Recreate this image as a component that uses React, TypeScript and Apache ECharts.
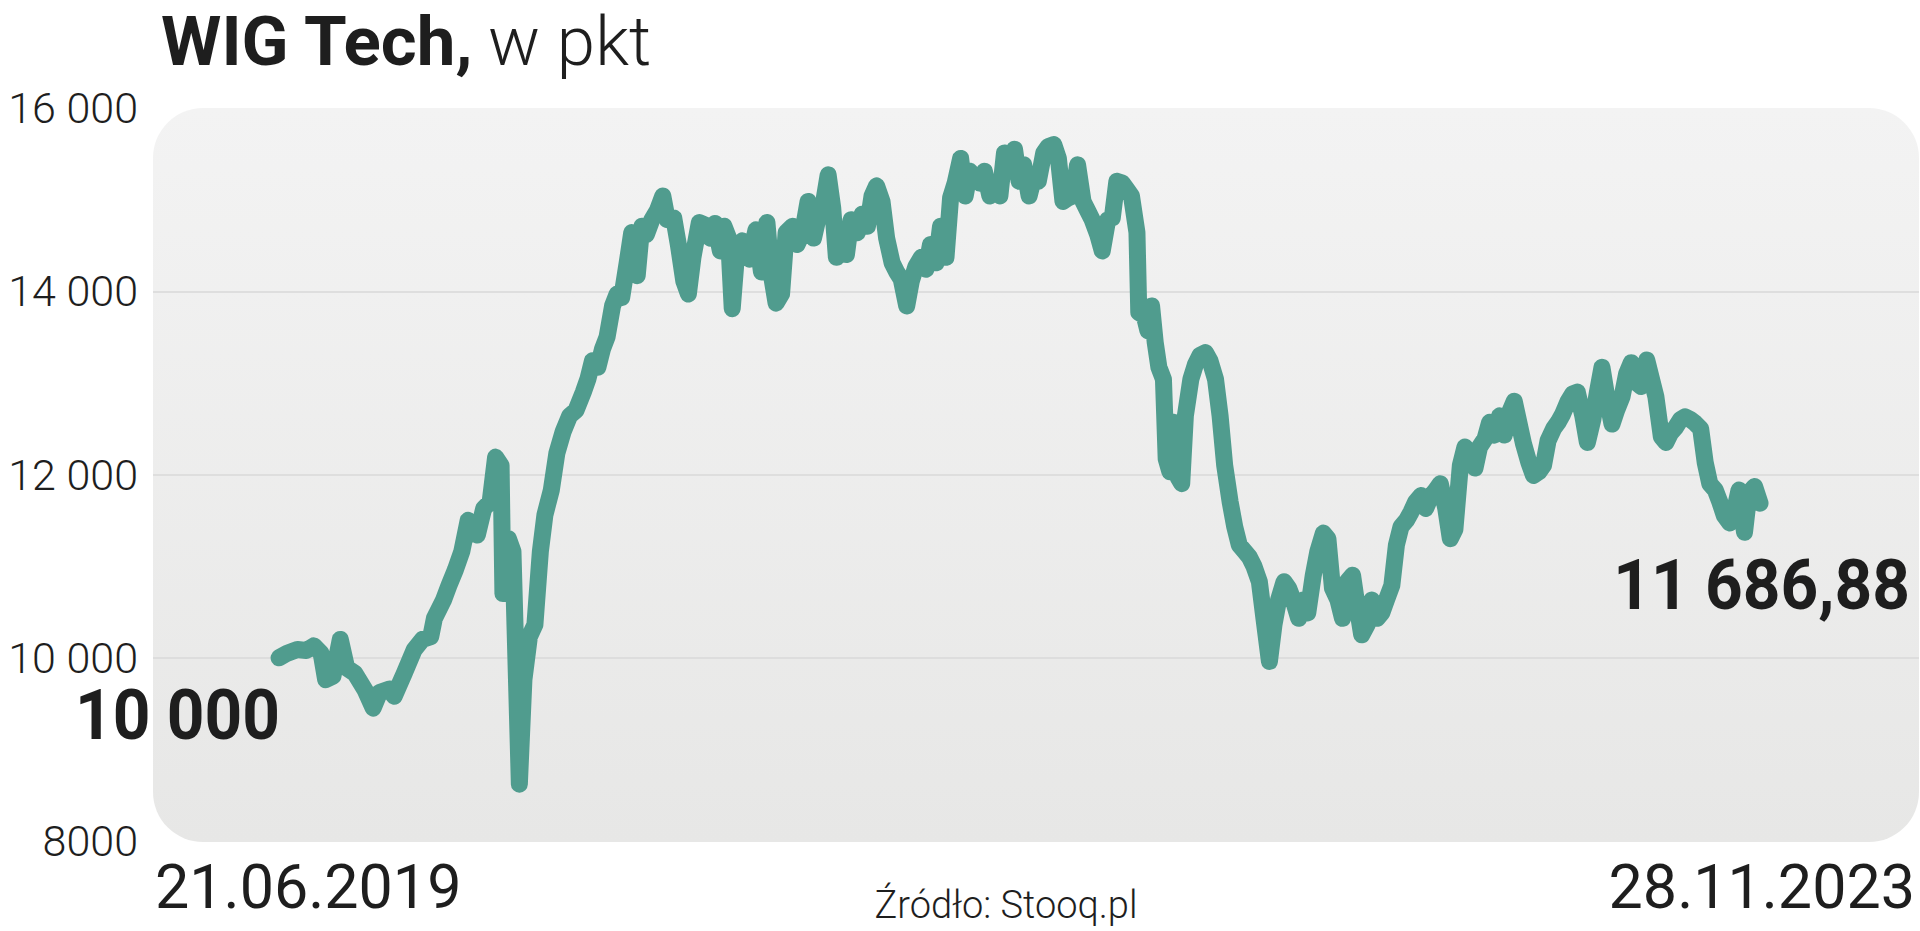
import React, { useEffect, useRef } from "react";
import * as echarts from "echarts";

// Days elapsed since 21.06.2019 (start of the series)
const days = [
  0, 9, 20, 30, 38, 46, 51, 59, 67, 74, 83, 94, 103, 110, 121, 126, 137, 148, 157, 166,
  170, 180, 186, 193, 200, 207, 212, 217, 224, 231, 237, 243, 245, 251, 256, 263, 268, 274, 280, 286,
  291, 298, 304, 311, 318, 325, 333, 338, 343, 349, 354, 359, 365, 370, 375, 381, 386, 392, 397, 402,
  408, 414, 420, 425, 432, 437, 443, 448, 453, 460, 467, 472, 477, 483, 487, 492, 496, 500, 507, 515,
  522, 528, 534, 539, 544, 550, 555, 562, 567, 573, 579, 585, 590, 595, 601, 606, 610, 616, 621, 626,
  633, 638, 644, 649, 654, 660, 665, 671, 676, 681, 687, 692, 697, 703, 708, 713, 719, 724, 730, 735,
  740, 746, 751, 756, 762, 767, 772, 778, 783, 789, 794, 799, 805, 810, 815, 821, 826, 831, 837, 842,
  848, 853, 858, 864, 869, 874, 880, 885, 890, 896, 901, 907, 912, 917, 923, 928, 933, 939, 941, 947,
  951, 955, 959, 963, 968, 971, 975, 979, 984, 988, 992, 998, 1003, 1008, 1014, 1019, 1025, 1030, 1035, 1041,
  1046, 1051, 1057, 1062, 1067, 1073, 1078, 1084, 1089, 1094, 1100, 1105, 1110, 1116, 1121, 1126, 1132, 1137, 1143, 1148,
  1153, 1159, 1164, 1169, 1175, 1180, 1185, 1191, 1196, 1202, 1207, 1212, 1218, 1223, 1228, 1234, 1239, 1244, 1250, 1255,
  1261, 1266, 1271, 1277, 1282, 1287, 1293, 1298, 1303, 1309, 1314, 1320, 1325, 1330, 1336, 1341, 1346, 1352, 1357, 1362,
  1368, 1373, 1379, 1384, 1389, 1395, 1400, 1405, 1411, 1416, 1421, 1427, 1432, 1438, 1443, 1448, 1454, 1459, 1464, 1470,
  1475, 1480, 1486, 1491, 1497, 1502, 1507, 1513, 1518, 1523, 1529, 1534, 1539, 1545, 1550, 1556, 1561, 1566, 1572, 1577,
  1582, 1588, 1593, 1598, 1604, 1609, 1615, 1621,
];

// WIG Tech index value, points
const values = [
  10000, 10050, 10090, 10080, 10130, 10050, 9760, 9800, 10200, 9890, 9830, 9650, 9450, 9620, 9660, 9580, 9830, 10090, 10200, 10230,
  10430, 10630, 10790, 10960, 11160, 11500, 11430, 11340, 11630, 11700, 12190, 12100, 10700, 11300, 11160, 8620, 9760, 10230, 10360, 11160,
  11560, 11830, 12230, 12470, 12640, 12700, 12900, 13040, 13240, 13170, 13370, 13500, 13840, 13970, 13930, 14310, 14640, 14170, 14710, 14620,
  14780, 14880, 15040, 14780, 14800, 14510, 14110, 13970, 14370, 14750, 14720, 14580, 14740, 14440, 14710, 14580, 13810, 14310, 14550, 14350,
  14670, 14210, 14750, 14170, 13870, 13970, 14640, 14710, 14510, 14640, 14980, 14580, 14800, 14910, 15270, 14910, 14370, 14580, 14400, 14780,
  14640, 14840, 14710, 15040, 15150, 14980, 14580, 14310, 14210, 14130, 13840, 14110, 14270, 14370, 14240, 14510, 14310, 14710, 14370, 15020,
  15180, 15450, 15040, 15310, 15240, 15180, 15310, 15040, 15180, 15040, 15510, 15380, 15550, 15200, 15380, 15040, 15240, 15200, 15510, 15580,
  15600, 15450, 14980, 15020, 15040, 15380, 14980, 14880, 14780, 14620, 14440, 14780, 14800, 15200, 15180, 15110, 15040, 14640, 13770, 13730,
  13570, 13840, 13440, 13170, 13040, 12170, 12030, 12570, 11970, 11900, 12640, 13040, 13200, 13300, 13330, 13240, 13040, 12640, 12100, 11700,
  11430, 11230, 11160, 11100, 11000, 10830, 10430, 9960, 10360, 10630, 10830, 10760, 10630, 10430, 10630, 10490, 10900, 11160, 11360, 11300,
  10760, 10630, 10430, 10830, 10900, 10560, 10250, 10360, 10630, 10430, 10490, 10630, 10790, 11230, 11430, 11500, 11590, 11700, 11770, 11630,
  11770, 11830, 11900, 11630, 11300, 11400, 12100, 12300, 12230, 12070, 12300, 12390, 12570, 12430, 12640, 12430, 12660, 12800, 12570, 12340,
  12130, 11990, 12030, 12100, 12370, 12500, 12570, 12660, 12800, 12880, 12900, 12640, 12350, 12600, 12900, 13170, 12800, 12550, 12700, 12850,
  13100, 13220, 13000, 12960, 13250, 13050, 12850, 12410, 12350, 12450, 12520, 12600, 12630, 12600, 12560, 12500, 12130, 11900, 11830, 11700,
  11550, 11470, 11600, 11830, 11370, 11800, 11870, 11686.88,
];

const yTicks = [8000, 10000, 12000, 14000, 16000];
const yTickLabels = ["8000", "10 000", "12 000", "14 000", "16 000"];

const titleBold = "WIG Tech,";
const titleLight = "w pkt";
const startValueLabel = "10 000";
const endValueLabel = "11 686,88";
const startDateLabel = "21.06.2019";
const endDateLabel = "28.11.2023";
const sourceLabel = "Źródło: Stooq.pl";

const TEXT = "#1e1e1e";
const LINE = "#509c8e";
const FONT = "Roboto, 'Noto Sans', sans-serif";

export default function App() {
  const ref = useRef<HTMLDivElement>(null);

  useEffect(() => {
    if (!ref.current) return;
    const chart = echarts.init(ref.current, null, { renderer: "svg" });
    const seriesData = days.map((d, i) => [d, values[i]]);

    chart.setOption({
      animation: false,
      backgroundColor: "#ffffff",
      grid: { left: 153, right: 1, top: 108, bottom: 90, containLabel: false },
      xAxis: {
        type: "value",
        min: -138,
        max: 1795,
        show: false,
      },
      yAxis: {
        type: "value",
        min: 8000,
        max: 16000,
        interval: 2000,
        axisLine: { show: false },
        axisTick: { show: false },
        axisLabel: {
          margin: 15,
          fontFamily: FONT,
          fontSize: 43,
          fontWeight: 300,
          color: TEXT,
          formatter: (v: number) => {
            const i = yTicks.indexOf(v);
            return i >= 0 ? yTickLabels[i] : "";
          },
        },
        splitLine: {
          show: true,
          showMinLine: false,
          showMaxLine: false,
          lineStyle: { color: "#d9d9d9", width: 1.5 },
        },
      },
      series: [
        {
          type: "line",
          data: seriesData,
          showSymbol: false,
          symbol: "none",
          lineStyle: { color: LINE, width: 17, cap: "round", join: "round" },
          z: 5,
        },
      ],
      graphic: {
        elements: [
          {
            type: "rect",
            z: -10,
            silent: true,
            shape: { x: 153, y: 108, width: 1766, height: 734, r: 50 },
            style: {
              fill: new echarts.graphic.LinearGradient(0, 0, 0, 1, [
                { offset: 0, color: "#f3f3f3" },
                { offset: 1, color: "#e7e7e6" },
              ]),
            },
          },
          {
            type: "text",
            x: 161,
            y: 41,
            z: 10,
            style: { text: titleBold, fontFamily: FONT, fontSize: 69, fontWeight: "bold", fill: TEXT, align: "left", verticalAlign: "middle" },
          },
          {
            type: "text",
            x: 488,
            y: 41,
            z: 10,
            style: { text: titleLight, fontFamily: FONT, fontSize: 69, fontWeight: 300, fill: TEXT, align: "left", verticalAlign: "middle" },
          },
          {
            type: "text",
            x: 280,
            y: 715,
            scaleX: 0.94,
            z: 10,
            style: { text: startValueLabel, fontFamily: FONT, fontSize: 70, fontWeight: "bold", fill: TEXT, align: "right", verticalAlign: "middle" },
          },
          {
            type: "text",
            x: 1910,
            y: 585,
            scaleX: 0.94,
            z: 10,
            style: { text: endValueLabel, fontFamily: FONT, fontSize: 70, fontWeight: "bold", fill: TEXT, align: "right", verticalAlign: "middle" },
          },
          {
            type: "text",
            x: 155,
            y: 887,
            z: 10,
            style: { text: startDateLabel, fontFamily: FONT, fontSize: 61, fontWeight: 400, fill: TEXT, align: "left", verticalAlign: "middle" },
          },
          {
            type: "text",
            x: 1915,
            y: 887,
            z: 10,
            style: { text: endDateLabel, fontFamily: FONT, fontSize: 61, fontWeight: 400, fill: TEXT, align: "right", verticalAlign: "middle" },
          },
          {
            type: "text",
            x: 1006,
            y: 905,
            z: 10,
            style: { text: sourceLabel, fontFamily: FONT, fontSize: 38, fontWeight: 300, fill: TEXT, align: "center", verticalAlign: "middle" },
          },
        ],
      },
    });

    return () => chart.dispose();
  }, []);

  return (
    <div
      ref={ref}
      style={{ position: "fixed", left: 0, top: 0, width: 1920, height: 931 }}
    />
  );
}
